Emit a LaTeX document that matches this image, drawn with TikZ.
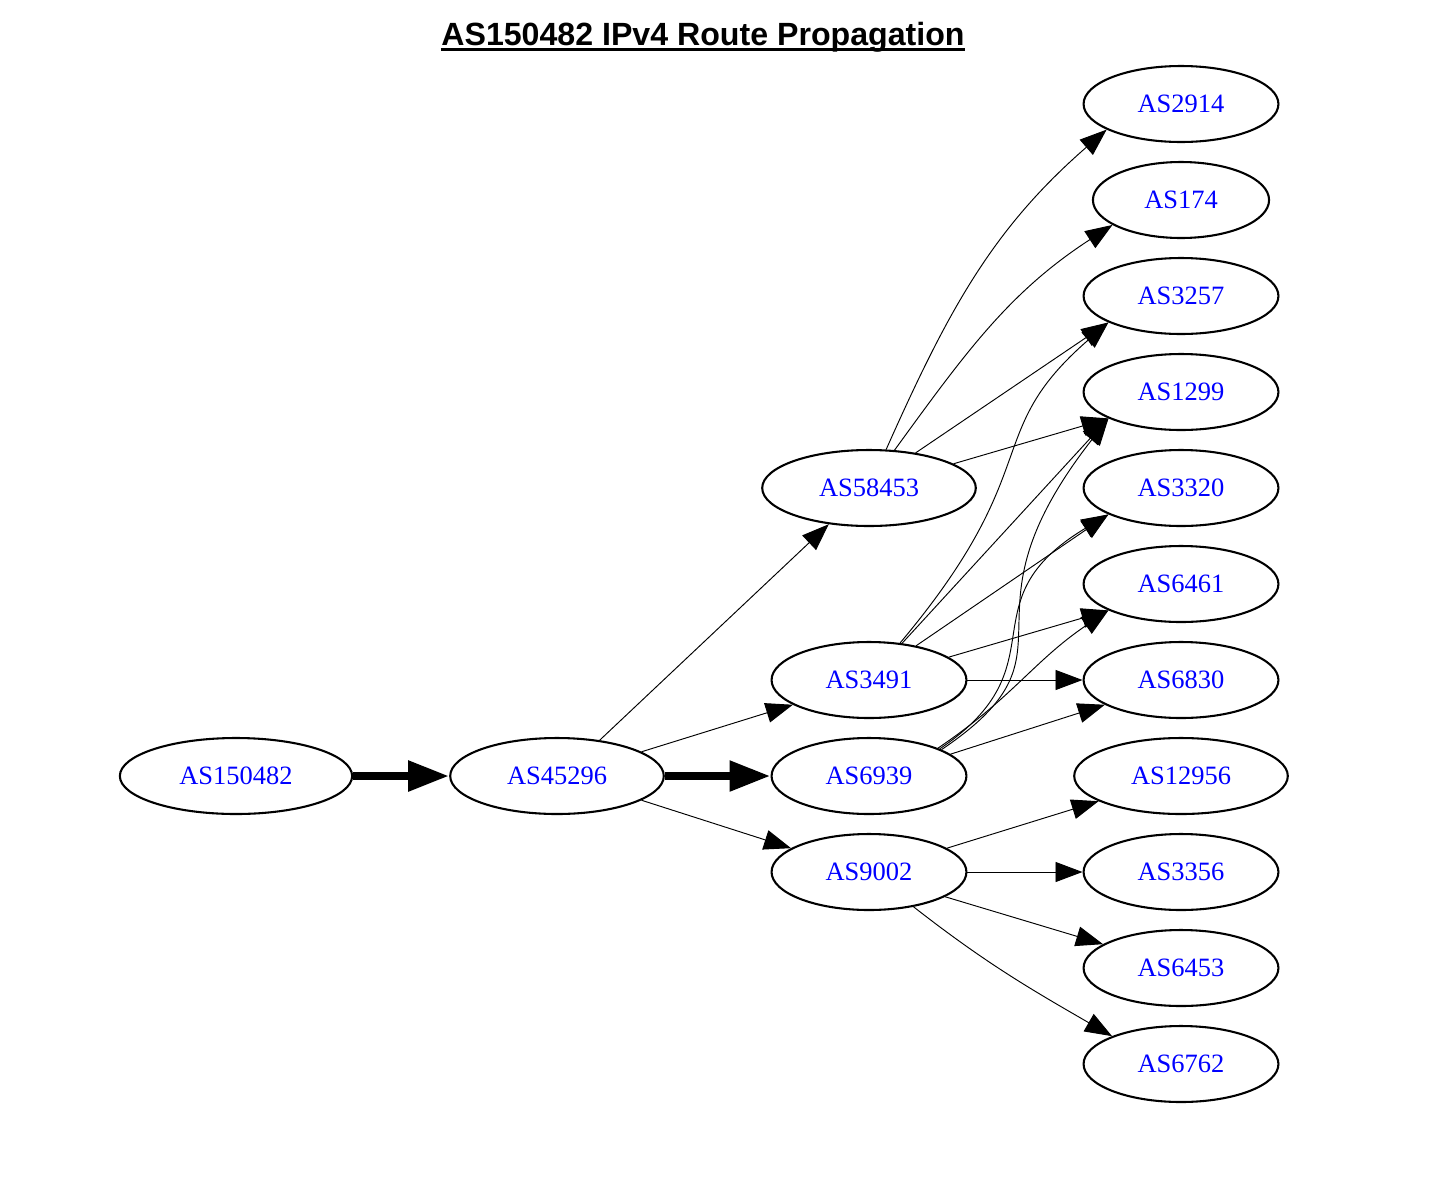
\documentclass[tikz,border=0pt]{standalone}
\usepackage{fontspec}
\setmainfont{Liberation Serif}
\newfontfamily\titlefont{Liberation Sans}
\usetikzlibrary{shapes.geometric,arrows.meta}

\begin{document}
\begin{tikzpicture}[x=0.529pt,y=0.529pt,
	asnode/.style={ellipse,draw,line width=1.1pt,inner xsep=13.5pt,inner ysep=2pt,minimum height=40.2pt,text=blue,font=\fontsize{14}{16}\selectfont},
	link/.style={line width=0.5pt,-{Triangle[length=14.3pt,width=10.6pt]}},
	heavy/.style={line width=4.5pt,-{Triangle[length=21.7pt,width=15.3pt]}}]

	% frame
	\useasboundingbox (0,0) rectangle (1448,-1176);

	% title
	\node[font=\titlefont\bfseries\fontsize{17}{20}\selectfont,inner sep=0pt,anchor=base] (title) at (703,-45) {AS150482 IPv4 Route Propagation};
	\draw[line width=1.5pt] ([yshift=-2.2pt]title.base west) -- ([yshift=-2.2pt]title.base east);

	% origin and upstream
	\node[asnode] (as150482) at (236,-776) {AS150482};
	\node[asnode] (as45296) at (557,-776) {AS45296};

	% transit
	\node[asnode] (as58453) at (869,-488) {AS58453};
	\node[asnode] (as3491) at (869,-680) {AS3491};
	\node[asnode] (as6939) at (869,-776) {AS6939};
	\node[asnode] (as9002) at (869,-872) {AS9002};

	% tier 1
	\node[asnode] (as2914) at (1181,-104) {AS2914};
	\node[asnode] (as174) at (1181,-200) {AS174};
	\node[asnode] (as3257) at (1181,-296) {AS3257};
	\node[asnode] (as1299) at (1181,-392) {AS1299};
	\node[asnode] (as3320) at (1181,-488) {AS3320};
	\node[asnode] (as6461) at (1181,-584) {AS6461};
	\node[asnode] (as6830) at (1181,-680) {AS6830};
	\node[asnode] (as12956) at (1181,-776) {AS12956};
	\node[asnode] (as3356) at (1181,-872) {AS3356};
	\node[asnode] (as6453) at (1181,-968) {AS6453};
	\node[asnode] (as6762) at (1181,-1064) {AS6762};

	% main path
	\draw[heavy] (as150482) -- (as45296);
	\draw[heavy] (as45296) -- (as6939);

	% AS45296
	\draw[link] (as45296.40) -- (as58453.222);
	\draw[link] (as45296.16) -- (as3491.198);
	\draw[link] (as45296.-16) -- (as9002.163);

	% AS58453
	\draw[link] (as58453.66) to[out=66,in=221] (as2914.199);
	\draw[link] (as58453.56) to[out=54,in=213] (as174.200);
	\draw[link] (as58453.37) -- (as3257.200);
	\draw[link] (as58453.16) -- (as1299.200);

	% AS3491
	\draw[link] (as3491.50) .. controls +(50:230) and +(221:170) .. (as3257.200);
	\draw[link] (as3491.48) -- (as1299.200);
	\draw[link] (as3491.36) -- (as3320.200);
	\draw[link] (as3491.16) -- (as6461.200);
	\draw[link] (as3491) -- (as6830);

	% AS6939
	\draw[link] (as6939.20) .. controls +(34:180) and +(232:260) .. (as1299.200);
	\draw[link] (as6939.21) .. controls +(34:150) and +(211:170) .. (as3320.200);
	\draw[link] (as6939.22) .. controls +(34:90) and +(214:90) .. (as6461.200);
	\draw[link] (as6939.15) -- (as6830.198);

	% AS9002
	\draw[link] (as9002.17) -- (as12956.197);
	\draw[link] (as9002) -- (as3356);
	\draw[link] (as9002.-18) -- (as6453.163);
	\draw[link] (as9002.-38) to[out=-38,in=150] (as6762.158);

\end{tikzpicture}
\end{document}
